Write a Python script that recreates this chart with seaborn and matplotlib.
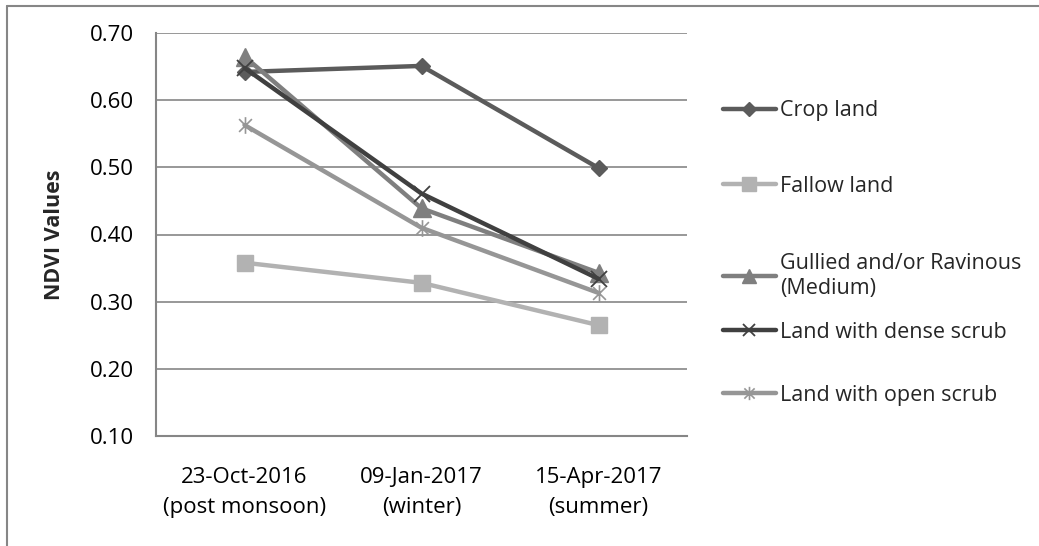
import matplotlib
matplotlib.use("Agg")
import matplotlib.pyplot as plt
from matplotlib.path import Path
from matplotlib.lines import Line2D
import seaborn as sns
import pandas as pd

dates = ["23-Oct-2016\n(post monsoon)", "09-Jan-2017\n(winter)", "15-Apr-2017\n(summer)"]

crop_land = [0.642, 0.651, 0.499]
fallow_land = [0.358, 0.328, 0.265]
gullied = [0.665, 0.439, 0.343]
dense_scrub = [0.648, 0.461, 0.334]
open_scrub = [0.563, 0.410, 0.313]

series_names = ["Crop land", "Fallow land", "Gullied and/or Ravinous\n(Medium)",
                "Land with dense scrub", "Land with open scrub"]
series_values = [crop_land, fallow_land, gullied, dense_scrub, open_scrub]

# asterisk like the spreadsheet "star" marker: x plus a vertical bar
star = Path([(-1, -1), (1, 1), (-1, 1), (1, -1), (0, -1.3), (0, 1.3)],
            [Path.MOVETO, Path.LINETO, Path.MOVETO, Path.LINETO, Path.MOVETO, Path.LINETO])

styles = [
    dict(color="#5b5b5b", marker="D", markersize=8.5, mec="#5b5b5b", mew=1),
    dict(color="#b2b2b2", marker="s", markersize=12, mec="#b2b2b2", mew=1),
    dict(color="#7f7f7f", marker="^", markersize=13, mec="#7f7f7f", mew=1),
    dict(color="#404040", marker="x", markersize=11, mec="#404040", mew=1.3),
    dict(color="#969696", marker=star, markersize=12, mec="#969696", mew=1.2),
]

sns.set_style("white")
plt.rcParams["font.family"] = ["Open Sans", "DejaVu Sans"]

fig = plt.figure(figsize=(10.39, 5.46), dpi=100)
ax = fig.add_axes([156 / 1039, 1 - 436 / 546, (687 - 156) / 1039, (436 - 33) / 546])

for name, vals, st in zip(series_names, series_values, styles):
    df = pd.DataFrame({"date": dates, "ndvi": vals})
    sns.lineplot(data=df, x="date", y="ndvi", ax=ax, sort=False, color=st["color"],
                 marker=st["marker"], markersize=st["markersize"], markeredgecolor=st["mec"],
                 markeredgewidth=st["mew"], linewidth=3.2, legend=False)

ax.set_xlim(-0.5, 2.5)
ax.set_ylim(0.10, 0.70)
ax.set_yticks([0.10, 0.20, 0.30, 0.40, 0.50, 0.60, 0.70])
ax.set_yticklabels([f"{v:.2f}" for v in ax.get_yticks()])
ax.yaxis.grid(True, color="#868686", linewidth=1.2)
ax.set_axisbelow(True)
for side in ["top", "right"]:
    ax.spines[side].set_visible(False)
for side in ["left", "bottom"]:
    ax.spines[side].set_color("#868686")
    ax.spines[side].set_linewidth(1.5)
ax.tick_params(axis="y", length=0, pad=16, labelsize=16, colors="black")
ax.tick_params(axis="x", length=0, pad=22, labelsize=16, colors="black")
for t in ax.get_xticklabels():
    t.set_linespacing(1.6)
ax.set_xlabel("")
ax.set_ylabel("NDVI Values", fontsize=15.5, fontweight="bold")
ax.yaxis.set_label_coords(-0.172, 0.5)

# legend, one entry per row like the original
legend_y = [111, 186, 276, 332, 395]
for name, st, y in zip(series_names, styles, legend_y):
    h = Line2D([], [], color=st["color"], linewidth=3.2, marker=st["marker"],
               markersize=st["markersize"] * 0.8, markeredgecolor=st["mec"],
               markeredgewidth=st["mew"])
    leg = fig.legend([h], [name], loc="center left",
                     bbox_to_anchor=(723 / 1039, 1 - y / 546), frameon=False,
                     borderpad=0, borderaxespad=0, handlelength=2.45, handletextpad=0.2,
                     fontsize=15.5)
    for t in leg.get_texts():
        t.set_linespacing(1.25)

# chart border
fig.add_artist(Line2D([7 / 1039, 7 / 1039], [0, 1 - 6 / 546], transform=fig.transFigure,
                      color="#868686", linewidth=1.5))
fig.add_artist(Line2D([7 / 1039, 1], [1 - 6 / 546, 1 - 6 / 546], transform=fig.transFigure,
                      color="#868686", linewidth=1.5))

fig.savefig("out.png", dpi=100)
